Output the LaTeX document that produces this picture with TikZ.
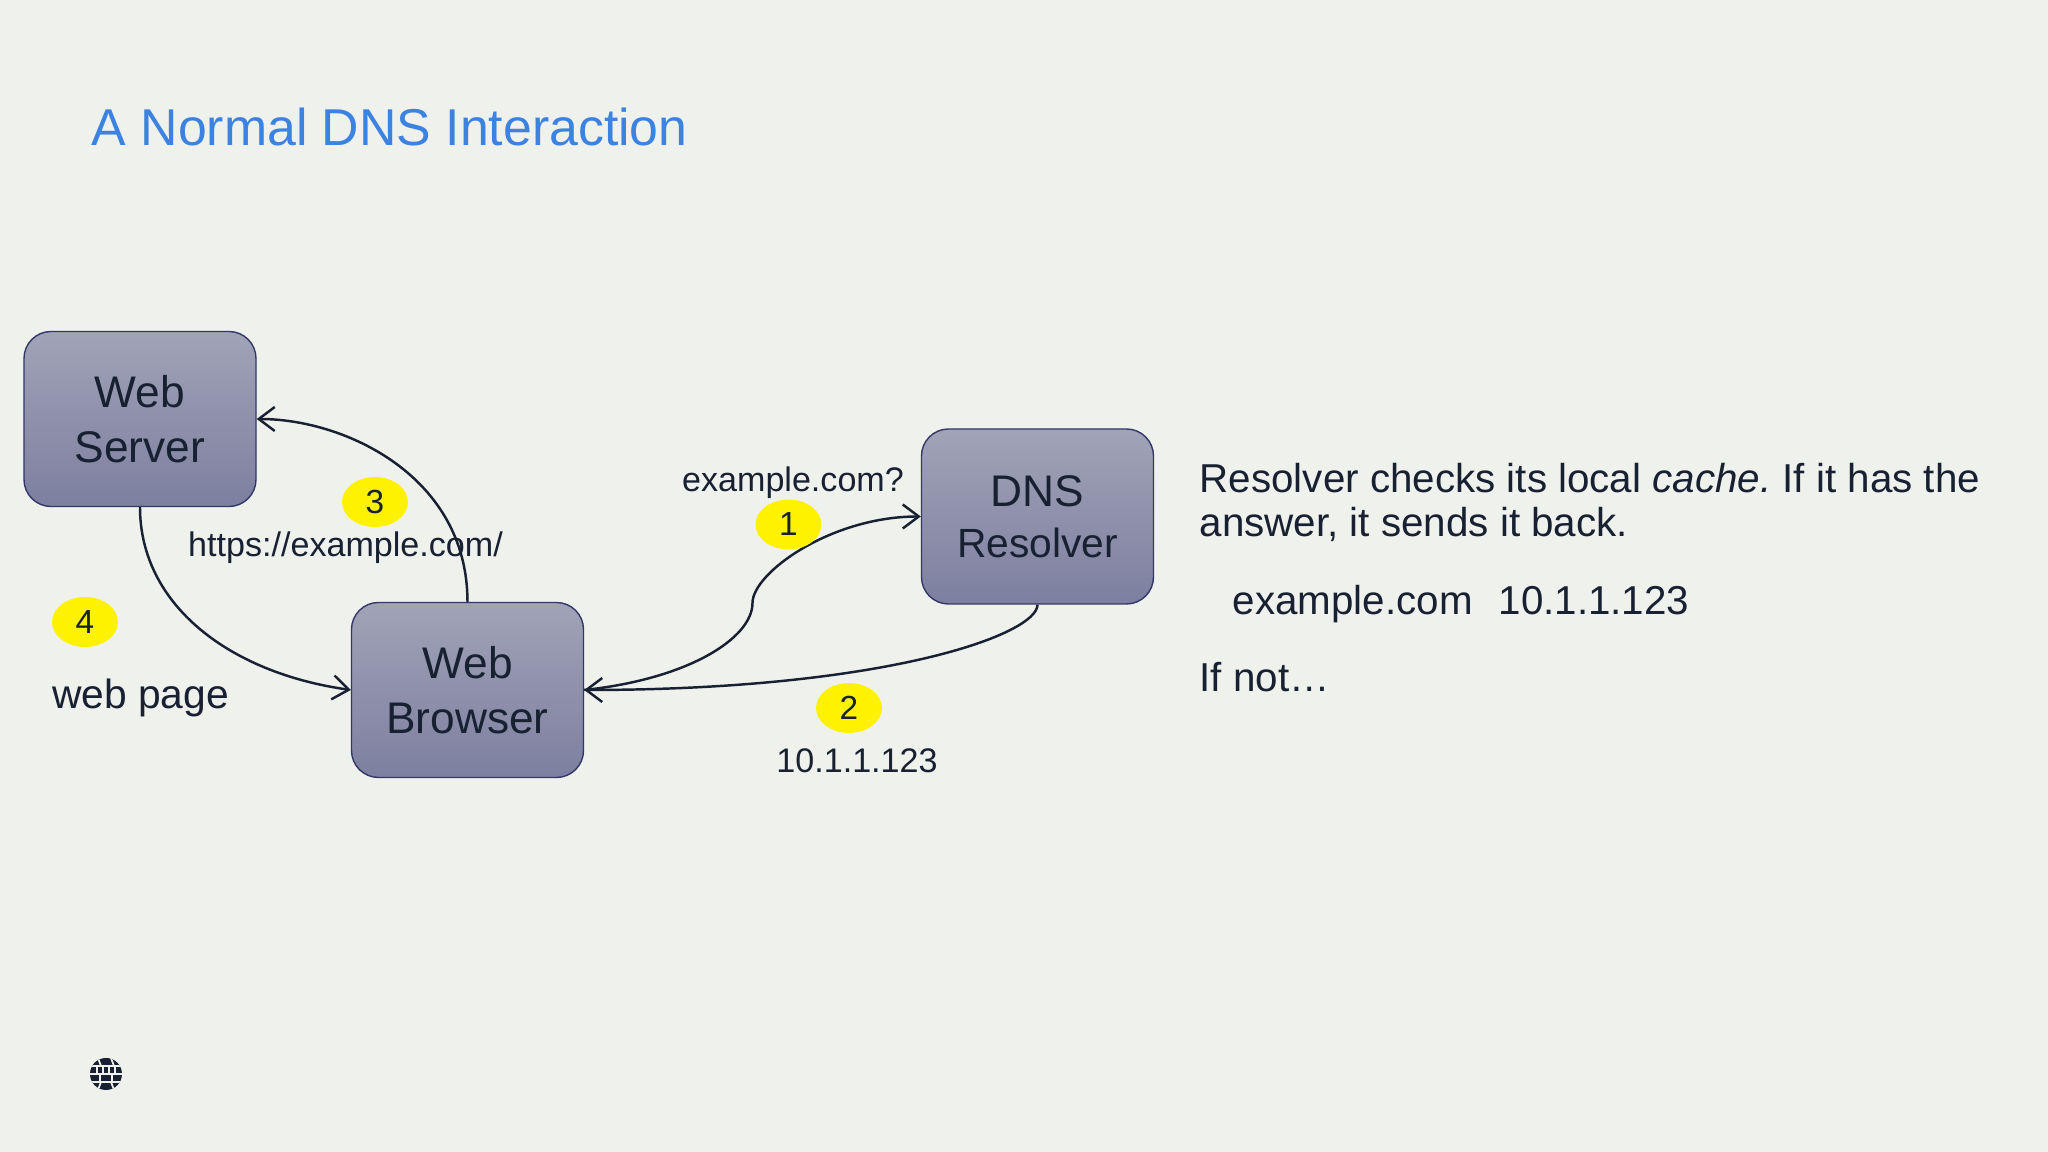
\documentclass[tikz,border=0pt]{standalone}
\usepackage{fontspec}
\setmainfont{Liberation Sans}
\usetikzlibrary{arrows.meta,shapes.geometric}
\definecolor{fond}{RGB}{239,241,237}
\definecolor{encre}{RGB}{24,33,50}
\definecolor{titre}{RGB}{60,130,225}
\definecolor{haut}{RGB}{161,163,183}
\definecolor{bas}{RGB}{125,127,160}
\definecolor{bord}{RGB}{52,56,105}
\tikzset{
  host/.style={draw=bord,line width=0.4pt,rounded corners=0.27cm,top color=haut,bottom color=bas,
    minimum width=2.32cm,minimum height=1.75cm,inner sep=0pt,align=center,text=encre,font=\fontsize{12.6}{15.6}\selectfont,
    execute at begin node={\rule{0pt}{#1}}},
  host/.default=10.3pt,
  badge/.style={ellipse,fill=yellow,minimum width=0.66cm,minimum height=0.5cm,inner sep=0pt,text=encre,font=\fontsize{9.5}{11}\selectfont},
  note/.style={text=encre,inner sep=0pt,font=\fontsize{9.7}{11}\selectfont},
  body/.style={text=encre,inner sep=0pt,anchor=west,font=\fontsize{11.48}{12}\selectfont\frenchspacing},
  link/.style={encre,line width=0.7pt,-{Straight Barb[length=1.6mm,width=2.4mm]}}
}
\begin{document}
\begin{tikzpicture}
\useasboundingbox (0,0) rectangle (20.48,11.52);
\fill [fond] (0,0) rectangle (20.48,11.52);

\node (heading) [anchor=west,inner sep=0pt,text=titre,font=\fontsize{14.74}{18}\selectfont] at (0.91,10.25) {A Normal DNS Interaction};

\node (server) [host] at (1.40,7.33) {Web\\Server};
\node (browser) [host] at (4.675,4.62) {Web\\Browser};
\node (dns) [host=11.6pt] at (10.375,6.355) {DNS\\[-1pt]\fontsize{11.6}{14}\selectfont Resolver};

% the query bends at this point
\coordinate (kink) at (7.525,5.49);

\path [link]
    (browser.north) edge [out=90,in=0,out distance=1.25cm,in distance=0.89cm] (server.east)
    (server.south) edge [out=270,in=172,out distance=0.98cm,in distance=1.22cm] (browser.west)
    (dns.south) edge [out=270,in=0,out distance=0.3cm,in distance=3cm] (browser.east);
\draw [link] (browser.east) to [out=6,in=270,out distance=1.05cm,in distance=0.35cm] (kink) to [out=90,in=180,out distance=0.3cm,in distance=0.9cm] (dns.west);

\node (step3) [badge] at (3.75,6.50) {3};
\node (step4) [badge] at (0.85,5.30) {4};
\node (step1) [badge] at (7.885,6.275) {1};
\node (step2) [badge] at (8.49,4.44) {2};

\node (url) [note] at (3.455,6.04) {https://example.com/};
\node (page) [note,font=\fontsize{11.6}{12}\selectfont] at (1.405,4.545) {web page};
\node (query) [note] at (7.93,6.695) {example.com?};
\node (reply) [note] at (8.57,3.915) {10.1.1.123};

\node (para1) [body] at (11.99,6.74) {Resolver checks its local \textit{cache.} If it has the};
\node (para2) [body] at (11.99,6.28) {answer, it sends it back.};
\node (record) [body] at (12.32,5.48) {example.com\hspace{0.26cm}10.1.1.123};
\node (para3) [body] at (11.99,4.75) {If not…};

% small globe in the corner
\begin{scope}[shift={(1.06,0.78)}]
\fill [encre] (0,0) circle (0.16);
\clip (0,0) circle (0.16);
\draw [fond,line width=0.5pt] (-0.16,0.08) -- (0.16,0.08) (-0.16,-0.08) -- (0.16,-0.08) (-0.16,0) -- (0.16,0);
\draw [fond,line width=0.5pt] (-0.08,0.16) -- (-0.05,0.08) (0.05,0.16) -- (0.08,0.08)
  (-0.09,0.08) -- (-0.09,0) (-0.03,0.08) -- (-0.03,0) (0.03,0.08) -- (0.03,0) (0.09,0.08) -- (0.09,0)
  (-0.06,0) -- (-0.06,-0.08) (0.06,0) -- (0.06,-0.08)
  (-0.05,-0.08) -- (-0.08,-0.16) (0.05,-0.08) -- (0.08,-0.16);
\end{scope}

\end{tikzpicture}
\end{document}
